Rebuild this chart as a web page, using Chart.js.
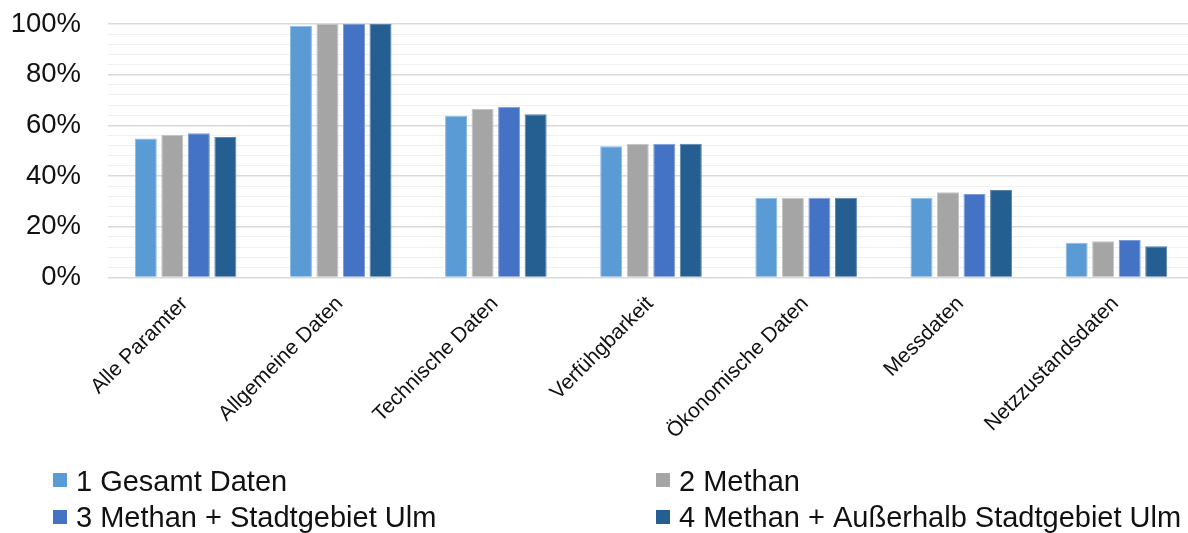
<!DOCTYPE html>
<html>
<head>
<meta charset="utf-8">
<script src="https://cdn.jsdelivr.net/npm/chart.js@4/dist/chart.umd.min.js"></script>
<style>
  html, body { margin: 0; padding: 0; background: #fff; overflow: hidden; }
  #wrap { position: relative; width: 1194px; height: 533px; }
</style>
</head>
<body>
<div id="wrap"><canvas id="c"></canvas></div>
<script>
// Categories of the parameter evaluation
const categories = [
  'Alle Paramter', 'Allgemeine Daten', 'Technische Daten', 'Verfühgbarkeit',
  'Ökonomische Daten', 'Messdaten', 'Netzzustandsdaten'
];

// Series names and shares (percent)
const seriesNames = [
  '1 Gesamt Daten', '2 Methan', '3 Methan + Stadtgebiet Ulm', '4 Methan + Außerhalb Stadtgebiet Ulm'
];
const gesamtDaten      = [54.8, 99.3, 63.8, 51.8, 31.5, 31.5, 13.7];
const methan           = [56.2, 100, 66.5, 52.8, 31.5, 33.6, 14.3];
const methanStadt      = [56.9, 100, 67.4, 52.8, 31.5, 32.9, 14.8];
const methanAusserhalb = [55.4, 100, 64.4, 52.8, 31.5, 34.5, 12.3];

// Y-axis tick labels (major ticks every 20 %)
const yTickLabels = ['0%', '20%', '40%', '60%', '80%', '100%'];

const colors  = ['#5B9BD5', '#A5A5A5', '#4472C4', '#255E91'];
const borders = ['#8DB9E3', '#C4C4C4', '#7D9BD6', '#5A84AA'];
const seriesValues = [gesamtDaten, methan, methanStadt, methanAusserhalb];

const FONT = '"Liberation Sans", Arial, sans-serif';

// Two-column legend drawn below the plot
const gridLegend = {
  id: 'gridLegend',
  afterDraw(chart) {
    const ctx = chart.ctx;
    const cols = [53, 656];
    const boxRows = [480, 517];
    const textRows = [483, 519];
    ctx.save();
    ctx.font = '29px ' + FONT;
    ctx.textBaseline = 'middle';
    ctx.textAlign = 'left';
    chart.data.datasets.forEach((ds, i) => {
      const x = cols[i % 2];
      const r = Math.floor(i / 2);
      ctx.fillStyle = ds.backgroundColor;
      ctx.fillRect(x, boxRows[r] - 7, 14, 14);
      ctx.fillStyle = '#111';
      ctx.fillText(ds.label, x + 23, textRows[r]);
    });
    ctx.restore();
  }
};

new Chart(document.getElementById('c'), {
  type: 'bar',
  data: {
    labels: categories,
    datasets: seriesNames.map((name, i) => ({
      label: name,
      data: seriesValues[i],
      backgroundColor: colors[i],
      borderColor: borders[i],
      borderWidth: 1,
      categoryPercentage: 0.684,
      barPercentage: 0.83
    }))
  },
  options: {
    responsive: true,
    maintainAspectRatio: false,
    animation: false,
    layout: { padding: { top: 24, left: 11, right: 0, bottom: 91.5 } },
    plugins: {
      legend: { display: false },
      tooltip: { enabled: false }
    },
    scales: {
      x: {
        grid: { display: false },
        border: { display: false },
        afterFit: (s) => { s.height = 164; s.paddingLeft = 0; s.paddingRight = 0; },
        ticks: {
          autoSkip: false,
          minRotation: 45,
          maxRotation: 45,
          padding: 6,
          labelOffset: -1,
          color: '#111',
          font: { family: FONT, size: 21 }
        }
      },
      y: {
        min: 0,
        max: 100,
        border: { display: false },
        afterFit: (s) => { s.width = 97; s.paddingTop = 0; s.paddingBottom = 0; },
        grid: {
          drawTicks: false,
          color: (c) => (c.tick && c.tick.value % 20 === 0) ? '#d9d9d9' : '#f0f0f0',
          lineWidth: (c) => (c.tick && c.tick.value % 20 === 0) ? 1.5 : 1
        },
        ticks: {
          stepSize: 4,
          autoSkip: false,
          padding: 27,
          color: '#111',
          font: { family: FONT, size: 27.5 },
          callback: (v) => (v % 20 === 0) ? yTickLabels[v / 20] : ''
        }
      }
    }
  },
  plugins: [gridLegend]
});
</script>
</body>
</html>
